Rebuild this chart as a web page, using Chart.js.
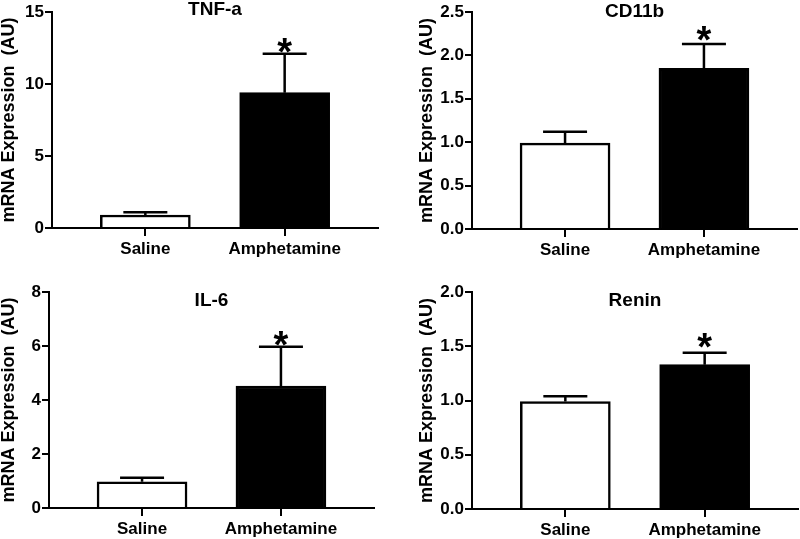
<!DOCTYPE html>
<html>
<head>
<meta charset="utf-8">
<script src="https://cdn.jsdelivr.net/npm/chart.js@4/dist/chart.umd.min.js"></script>
<style>
  html, body { margin: 0; padding: 0; background: #fff; }
  #wrap { position: relative; width: 800px; height: 539px; }
  .panel { position: absolute; }
</style>
</head>
<body>
<div id="wrap">
  <div class="panel" style="left:0;top:0"><canvas id="c1" width="400" height="270"></canvas></div>
  <div class="panel" style="left:400px;top:0"><canvas id="c2" width="400" height="270"></canvas></div>
  <div class="panel" style="left:0;top:270px"><canvas id="c3" width="400" height="269"></canvas></div>
  <div class="panel" style="left:400px;top:270px"><canvas id="c4" width="400" height="269"></canvas></div>
</div>
<script>
// ---- Data ----
const categories = ['Saline', 'Amphetamine'];
const panelTitles = ['TNF-a', 'CD11b', 'IL-6', 'Renin'];
const yAxisTitle = 'mRNA Expression  (AU)';

const tnfMeans = [0.9, 9.4];
const tnfSem = [0.2, 2.7];
const cd11bMeans = [0.99, 1.85];
const cd11bSem = [0.13, 0.28];
const il6Means = [0.97, 4.52];
const il6Sem = [0.15, 1.45];
const reninMeans = [0.99, 1.33];
const reninSem = [0.05, 0.11];
const significant = [false, true];

const tnfTicks = [0, 5, 10, 15];
const cd11bTicks = [0.0, 0.5, 1.0, 1.5, 2.0, 2.5];
const il6Ticks = [0, 2, 4, 6, 8];
const reninTicks = [0.0, 0.5, 1.0, 1.5, 2.0];

// ---- Rendering ----
const FONT = '"Liberation Sans", Arial, Helvetica, sans-serif';
Chart.defaults.font.family = FONT;
Chart.defaults.color = '#000';

const decor = {
  id: 'decor',
  afterDatasetsDraw(chart, args, opts) {
    const ctx = chart.ctx;
    const y = chart.scales.y;
    const meta = chart.getDatasetMeta(0);
    ctx.save();
    meta.data.forEach((bar, i) => {
      const x = bar.x;
      const top = y.getPixelForValue(opts.means[i]);
      const cap = y.getPixelForValue(opts.means[i] + opts.sem[i]);
      ctx.strokeStyle = '#000';
      ctx.lineWidth = 2.5;
      ctx.beginPath();
      ctx.moveTo(x, top);
      ctx.lineTo(x, cap);
      ctx.moveTo(x - 22, cap);
      ctx.lineTo(x + 22, cap);
      ctx.stroke();
      if (opts.sig[i]) {
        ctx.fillStyle = '#000';
        ctx.font = 'bold 38px ' + FONT;
        ctx.textAlign = 'center';
        ctx.textBaseline = 'alphabetic';
        ctx.fillText('*', x, cap + opts.starOffset);
      }
    });
    const ca = chart.chartArea;
    ctx.fillStyle = '#000';
    ctx.font = 'bold 19px ' + FONT;
    ctx.textAlign = 'center';
    ctx.textBaseline = 'middle';
    ctx.fillText(opts.title, (ca.left + ca.right) / 2, opts.titleY);
    ctx.restore();
  }
};

function makeChart(id, title, means, sem, ticks, decimals, lay) {
  const maxV = ticks[ticks.length - 1];
  return new Chart(document.getElementById(id), {
    type: 'bar',
    data: {
      datasets: [{
        data: means.map((m, i) => ({ x: i, y: m })),
        backgroundColor: ['#ffffff', '#000000'],
        borderColor: '#000',
        borderWidth: 2.5,
        borderSkipped: 'start',
        barThickness: 90
      }]
    },
    options: {
      responsive: false,
      devicePixelRatio: 1,
      animation: false,
      events: [],
      layout: { padding: { left: lay.padLeft, top: lay.top, right: lay.padRight, bottom: 0 } },
      plugins: {
        legend: { display: false },
        tooltip: { enabled: false },
        decor: { means: means, sem: sem, sig: significant, title: title, titleY: lay.titleY, starOffset: lay.starOffset }
      },
      scales: {
        x: {
          type: 'linear',
          min: -0.67,
          max: 1.67,
          offset: false,
          afterBuildTicks: (s) => { s.ticks = categories.map((c, i) => ({ value: i })); },
          afterFit: (s) => { s.height = lay.xHeight; },
          ticks: {
            callback: (v) => categories[v] ?? '',
            font: { size: 17, weight: 'bold' },
            color: '#000',
            padding: 3,
            maxRotation: 0,
            autoSkip: false
          },
          grid: { drawOnChartArea: false, drawTicks: true, tickLength: 8, color: '#000', lineWidth: 2, offset: false },
          border: { display: true, color: '#000', width: 2 }
        },
        y: {
          min: 0,
          max: maxV,
          afterBuildTicks: (s) => { s.ticks = ticks.map(v => ({ value: v })); },
          afterFit: (s) => { s.width = lay.yWidth; },
          ticks: {
            callback: (v) => Number(v).toFixed(decimals),
            font: { size: 17, weight: 'bold' },
            color: '#000',
            padding: 1
          },
          grid: { drawOnChartArea: false, drawTicks: true, tickLength: 7, color: '#000', lineWidth: 2 },
          border: { display: true, color: '#000', width: 2 },
          title: {
            display: true,
            text: yAxisTitle,
            font: { size: 18, weight: 'bold', lineHeight: 1 },
            color: '#000',
            padding: { top: 0, bottom: 0 }
          }
        }
      }
    },
    plugins: [decor]
  });
}

makeChart('c1', panelTitles[0], tnfMeans, tnfSem, tnfTicks, 0,
  { padLeft: 0, yWidth: 52, top: 12, padRight: 22, xHeight: 42, titleY: 10, starOffset: 11 });
makeChart('c2', panelTitles[1], cd11bMeans, cd11bSem, cd11bTicks, 1,
  { padLeft: 18, yWidth: 54, top: 12, padRight: 3, xHeight: 41, titleY: 11.5, starOffset: 9 });
makeChart('c3', panelTitles[2], il6Means, il6Sem, il6Ticks, 0,
  { padLeft: 0, yWidth: 49, top: 22, padRight: 26, xHeight: 31, titleY: 30.5, starOffset: 11 });
makeChart('c4', panelTitles[3], reninMeans, reninSem, reninTicks, 1,
  { padLeft: 18, yWidth: 54, top: 22, padRight: 2, xHeight: 30, titleY: 30.5, starOffset: 7 });
</script>
</body>
</html>
